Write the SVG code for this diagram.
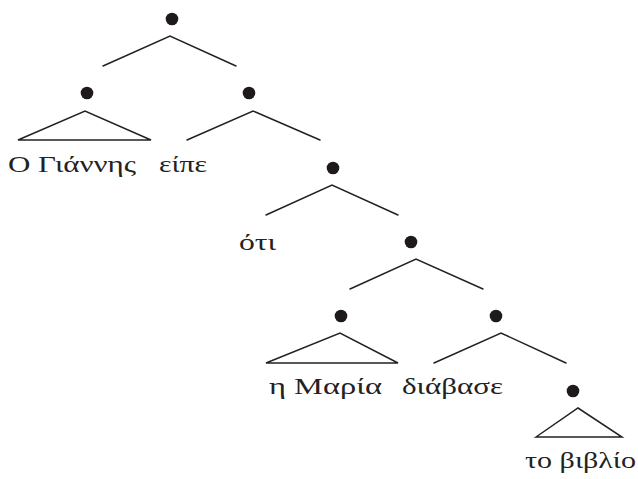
<svg xmlns="http://www.w3.org/2000/svg" width="638" height="479" viewBox="0 0 638 479">
<style>
.e{stroke:#222;stroke-width:1.5;fill:none;stroke-linecap:round;stroke-linejoin:miter}
.d{fill:#1e1a1a}
.t{font-family:"Liberation Serif","Times New Roman",serif;font-size:23px;fill:#222}
</style>
<rect width="638" height="479" fill="#fff"/>
<g id="connectors">
<polyline class="e" points="103,66 170,36 236,66"/>
<polygon class="e" points="18,140 85,111 151,140"/>
<polyline class="e" points="187,140 253,111 320,140"/>
<polyline class="e" points="266,215 332,185 398,215"/>
<polyline class="e" points="350,289 416,259 483,289"/>
<polygon class="e" points="266,363 340,333 398,363"/>
<polyline class="e" points="434,363 501,333 566,363"/>
<polygon class="e" points="536,437 578,408 622,437"/>
</g>
<g id="n-root"><circle class="d" cx="172" cy="19" r="6.3"/></g>
<g id="n-subj"><circle class="d" cx="87" cy="93" r="6.3"/><text class="t" x="8" y="172" textLength="128" lengthAdjust="spacingAndGlyphs">Ο Γιάννης</text></g>
<g id="n-vp1"><circle class="d" cx="249" cy="93" r="6.3"/><text class="t" x="159" y="172" textLength="48" lengthAdjust="spacingAndGlyphs">είπε</text></g>
<g id="n-cp"><circle class="d" cx="333" cy="168" r="6.3"/><text class="t" x="239" y="250" textLength="37" lengthAdjust="spacingAndGlyphs">ότι</text></g>
<g id="n-ip"><circle class="d" cx="411" cy="242" r="6.3"/></g>
<g id="n-subj2"><circle class="d" cx="341" cy="316" r="6.3"/><text class="t" x="269" y="394" textLength="113" lengthAdjust="spacingAndGlyphs">η Μαρία</text></g>
<g id="n-vp2"><circle class="d" cx="496" cy="316" r="6.3"/><text class="t" x="402" y="394" textLength="101" lengthAdjust="spacingAndGlyphs">διάβασε</text></g>
<g id="n-obj"><circle class="d" cx="573" cy="391" r="6.3"/><text class="t" x="525" y="468" textLength="111" lengthAdjust="spacingAndGlyphs">το βιβλίο</text></g>
</svg>
